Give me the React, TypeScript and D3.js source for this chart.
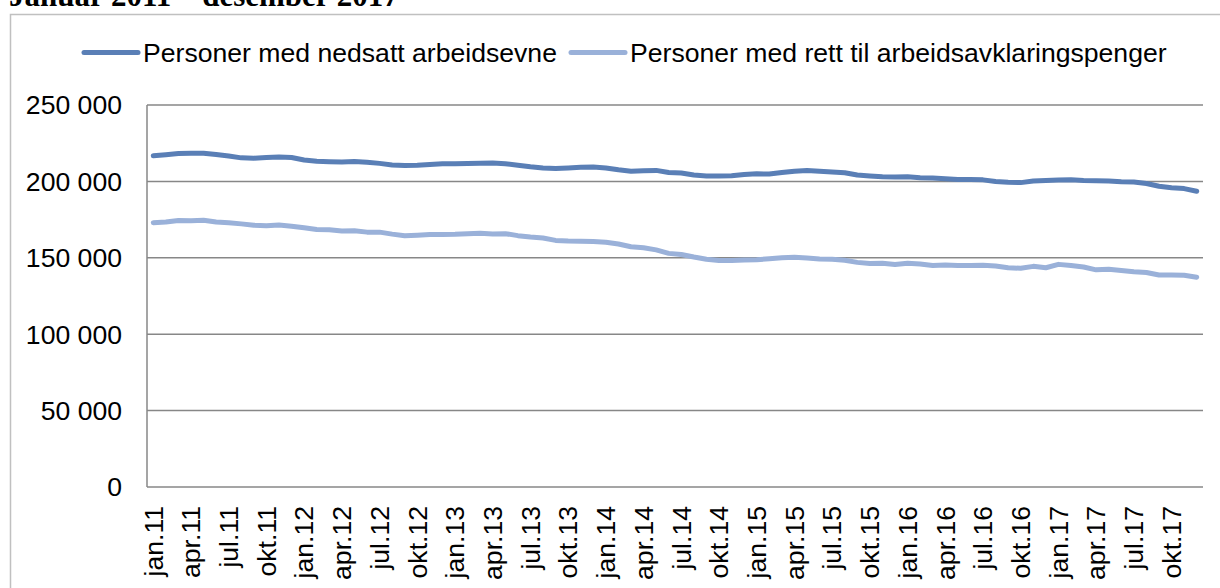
import React from 'react';
import { scaleBand, scaleLinear, line } from 'd3';

// monthly values jan.11 - des.17
const months = ['jan', 'feb', 'mar', 'apr', 'mai', 'jun', 'jul', 'aug', 'sep', 'okt', 'nov', 'des'];
const years = ['11', '12', '13', '14', '15', '16', '17'];
const categories = years.flatMap((y) => months.map((m) => m + '.' + y));

const nedsatt = [
  216800, 217500, 218200, 218400, 218400, 217600, 216600, 215400, 215200, 215600, 216000, 215600,
  214000, 213200, 212900, 212700, 213000, 212500, 211800, 210800, 210400, 210500, 211000, 211500,
  211500, 211700, 211800, 212000, 211600, 210600, 209600, 208800, 208400, 208800, 209200, 209400,
  208800, 207600, 206700, 207000, 207200, 205800, 205500, 204200, 203600, 203500, 203700, 204500,
  205000, 204800, 205800, 206700, 207200, 206700, 206200, 205700, 204200, 203600, 203000, 202900,
  203000, 202400, 202300, 201800, 201300, 201200, 201000, 199900, 199400, 199200, 200200, 200600,
  200900, 201000, 200600, 200400, 200300, 199800, 199600, 198600, 196800, 195800, 195300, 193600,
];

const aap = [
  173000, 173400, 174400, 174300, 174600, 173400, 172900, 172200, 171300, 170900, 171400, 170700,
  169600, 168500, 168300, 167500, 167700, 166800, 166800, 165500, 164400, 164800, 165300, 165200,
  165400, 165800, 166000, 165600, 165800, 164500, 163600, 163000, 161400, 161000, 160900, 160600,
  160200, 159000, 157200, 156600, 155200, 152900, 152200, 150500, 149000, 148300, 148300, 148500,
  148700, 149400, 150000, 150300, 149800, 149200, 149000, 148400, 147000, 146200, 146400, 145600,
  146400, 146000, 145000, 145300, 145000, 145000, 145200, 144600, 143500, 143100, 144400, 143500,
  145700, 145000, 144000, 142100, 142500, 141700, 140800, 140400, 138700, 138700, 138600, 137300,
];

const yTicks = [0, 50000, 100000, 150000, 200000, 250000];
const seriesNames = ['Personer med nedsatt arbeidsevne', 'Personer med rett til arbeidsavklaringspenger'];
const colors = ['#5a7fb6', '#9ab1d9'];

const fmt = (v: number) => (v === 0 ? '0' : `${Math.floor(v / 1000)} ${String(v % 1000).padStart(3, '0')}`);

export default function App() {
  const width = 1220,
    height = 588;
  const left = 147,
    right = 1203,
    top = 105,
    bottom = 487;

  const x = scaleBand<string>().domain(categories).range([left, right]);
  const y = scaleLinear().domain([0, 250000]).range([bottom, top]);
  const cx = (c: string) => (x(c) as number) + x.bandwidth() / 2;

  const path = line<number>()
    .x((_, i) => cx(categories[i]))
    .y((d) => y(d));

  const font = '"Liberation Sans", Arial, sans-serif';
  const fs = 26.6;

  return (
    <svg width={width} height={height} style={{ position: 'absolute', left: 0, top: 0, background: '#fff' }}>
      <text x={9} y={6} fontFamily='"Liberation Serif", "Times New Roman", serif' fontWeight="bold" fontSize={31}>
        Januar 2011 – desember 2017
      </text>
      {/* chart frame */}
      <rect x={10.5} y={14.5} width={1300} height={700} fill="none" stroke="#c0c0c0" strokeWidth={1.5} />

      {/* legend */}
      <g fontFamily={font} fontSize={fs}>
        <line x1={84} x2={138} y1={52.5} y2={52.5} stroke={colors[0]} strokeWidth={5} strokeLinecap="round" />
        <text x={143} y={52.5} dy="0.35em" fill="#000">{seriesNames[0]}</text>
        <line x1={571} x2={625} y1={52.5} y2={52.5} stroke={colors[1]} strokeWidth={5} strokeLinecap="round" />
        <text x={630} y={52.5} dy="0.35em" fill="#000">{seriesNames[1]}</text>
      </g>

      {/* gridlines + y labels */}
      {yTicks.map((t) => (
        <g key={t}>
          <line x1={left} x2={right} y1={y(t)} y2={y(t)} stroke="#878787" strokeWidth={1.5} />
          <text x={122} y={y(t)} dy="0.35em" textAnchor="end" fontFamily={font} fontSize={fs}>
            {fmt(t)}
          </text>
        </g>
      ))}
      <line x1={left} x2={left} y1={top} y2={bottom} stroke="#878787" strokeWidth={1.5} />

      {/* x labels every quarter */}
      {categories
        .filter((_, i) => i % 3 === 0)
        .map((c) => (
          <text
            key={c}
            transform={`translate(${cx(c)},506) rotate(-90)`}
            dy="0.35em"
            textAnchor="end"
            fontFamily={font}
            fontSize={fs}
          >
            {c}
          </text>
        ))}

      <path d={path(nedsatt) || ''} fill="none" stroke={colors[0]} strokeWidth={5} strokeLinejoin="round" strokeLinecap="round" />
      <path d={path(aap) || ''} fill="none" stroke={colors[1]} strokeWidth={5} strokeLinejoin="round" strokeLinecap="round" />
    </svg>
  );
}
